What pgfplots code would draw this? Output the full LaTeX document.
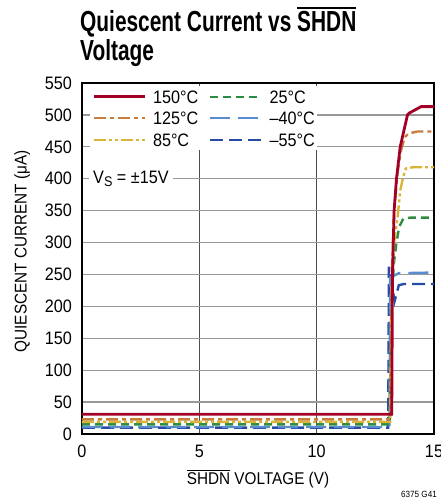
\documentclass[border=0pt]{standalone}
\usepackage{pgfplots}
\pgfplotsset{compat=1.18}
\usepackage{fontspec}
\setmainfont{Liberation Sans}[FakeStretch=0.9]
\newfontfamily\titlefont{Liberation Sans}[FakeStretch=0.72]
\definecolor{c150}{HTML}{A30028}
\definecolor{c125}{HTML}{C87D3C}
\definecolor{c85}{HTML}{DAB437}
\definecolor{c25}{HTML}{2D8C41}
\definecolor{cm40}{HTML}{5A8CD2}
\definecolor{cm55}{HTML}{284BA5}
\newcommand\ovl[1]{\vbox{\hrule height 0.06em\kern 0.1em\hbox{#1}}}
\begin{document}
\begin{tikzpicture}
\useasboundingbox (-82pt,-66pt) rectangle (359pt,434pt);
\begin{axis}[
  scale only axis, width=352pt, height=351pt,
  xmin=0, xmax=15, ymin=0, ymax=550,
  xtick={0,5,10,15}, ytick={0,50,...,550},
  major tick length=0pt,
  xmajorgrids, ymajorgrids,
  x grid style={line width=1pt, color=black!70},
  y grid style={line width=1.2pt, color=black!40},
  axis line style={line width=1.5pt},
  tick label style={font=\fontsize{18}{21}\selectfont},
  /pgf/number format/assume math mode=true,
  yticklabel style={inner sep=0pt, xshift=-10pt},
  xticklabel style={inner sep=0pt, yshift=-11pt},
  xlabel={\ovl{SHDN} VOLTAGE (V)},
  ylabel={QUIESCENT CURRENT (μA)},
  every axis x label/.style={at={(axis description cs:0.5,-0.145)}, anchor=base, font=\fontsize{17}{20}\selectfont},
  every axis y label/.style={at={(axis description cs:-0.17,0.52)}, rotate=90, anchor=center, font=\fontsize{17}{20}\selectfont},
  legend columns=2,
  legend cell align=left,
  legend style={at={(rel axis cs:0,1)}, anchor=north west, xshift=8pt, yshift=-3pt,
    draw=none, fill=white, inner xsep=2pt, inner ysep=4pt,
    font=\fontsize{18}{21}\selectfont, row sep=8.5pt, column sep=7pt,
    nodes={inner sep=0pt, text height=13pt, text depth=0pt},
    /tikz/every even column/.append style={column sep=11pt}},
  legend image code/.code={\draw[#1] (0pt,0pt) -- (51pt,0pt);},
]
\addlegendimage{c150, line width=2.8pt}\addlegendentry{150°C}
\addlegendimage{c25, line width=2.4pt, dash pattern=on 8pt off 5pt}\addlegendentry{25°C}
\addlegendimage{c125, line width=2.4pt, dash pattern=on 12pt off 4pt on 4pt off 4pt}\addlegendentry{125°C}
\addlegendimage{cm40, line width=2.4pt, dash pattern=on 20pt off 8pt}\addlegendentry{–40°C}
\addlegendimage{c85, line width=2.4pt, dash pattern=on 12pt off 3pt on 3pt off 3pt on 3pt off 3pt}\addlegendentry{85°C}
\addlegendimage{cm55, line width=2.4pt, dash pattern=on 13pt off 6pt}\addlegendentry{–55°C}

\addplot[forget plot, cm55, line width=2.4pt, dash pattern=on 13pt off 6pt] coordinates {
 (0,10) (13.05,10) (13.08,262) (13.32,208) (13.5,233) (13.7,235) (15,235)};
\addplot[forget plot, cm40, line width=2.4pt, dash pattern=on 20pt off 8pt] coordinates {
 (0,11) (13.1,11) (13.13,245) (13.5,252) (15,253)};
\addplot[forget plot, c25, line width=2.4pt, dash pattern=on 8pt off 5pt] coordinates {
 (0,15) (13.12,15) (13.17,200) (13.3,270) (13.4,300) (13.52,325) (13.7,338) (14,339) (15,339)};
\addplot[forget plot, c85, line width=2.4pt, dash pattern=on 12pt off 3pt on 3pt off 3pt on 3pt off 3pt] coordinates {
 (0,19) (13.13,19) (13.18,200) (13.3,300) (13.45,340) (13.56,381) (13.68,402) (13.8,416) (14.1,418) (15,418)};
\addplot[forget plot, c125, line width=2.4pt, dash pattern=on 12pt off 4pt on 4pt off 4pt] coordinates {
 (0,23) (13.15,23) (13.2,250) (13.3,350) (13.45,410) (13.6,445) (13.75,465) (13.92,471) (14.3,474) (15,474)};
\addplot[forget plot, c150, line width=2.8pt] coordinates {
 (0,31) (13.2,31) (13.23,250) (13.3,350) (13.4,400) (13.56,450) (13.87,500) (13.95,503) (14.45,513) (15,513)};

\node[fill=white, inner xsep=4pt, inner ysep=2pt, anchor=west, font=\fontsize{18}{21}\selectfont]
  at (axis cs:0.3,400) {V\raisebox{-0.35ex}{\fontsize{14}{14}\selectfont S} = ±15V};
\end{axis}
\node[anchor=base west, inner sep=0pt, font=\titlefont\bfseries\fontsize{29}{29}\selectfont] at (-2pt,402pt) {Quiescent Current vs \ovl{SHDN}};
\node[anchor=base west, inner sep=0pt, font=\titlefont\bfseries\fontsize{29}{29}\selectfont] at (-2pt,373pt) {Voltage};
\node[anchor=base east, inner sep=0pt, font=\fontsize{9}{9}\selectfont] at (355pt,-63pt) {6375 G41};
\end{tikzpicture}
\end{document}
